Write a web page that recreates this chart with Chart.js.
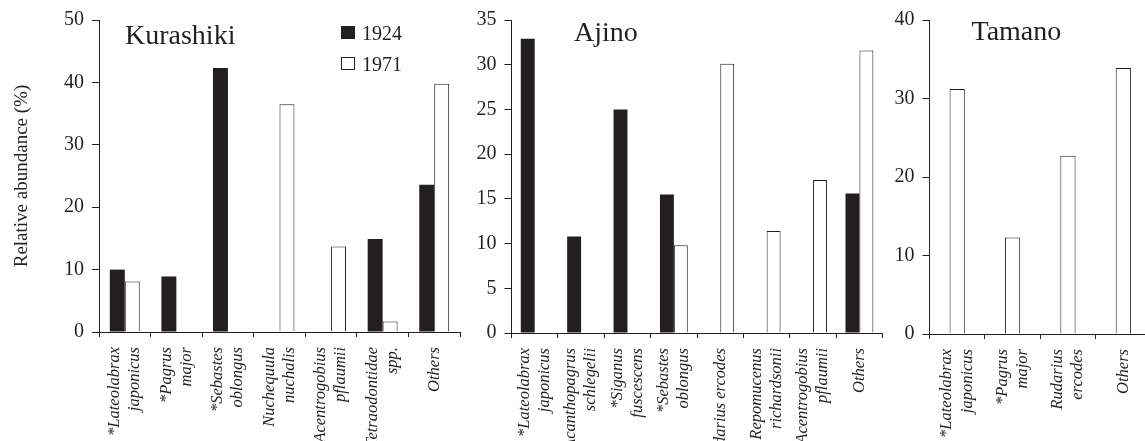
<!DOCTYPE html>
<html>
<head>
<meta charset="utf-8">
<script src="https://cdn.jsdelivr.net/npm/chart.js@4.4.1/dist/chart.umd.min.js"></script>
<style>
  html, body { margin: 0; padding: 0; background: #fff; overflow: hidden; }
  #wrap { position: relative; width: 1145px; height: 441px; overflow: hidden; }
  canvas { position: absolute; top: 0; }
</style>
</head>
<body>
<div id="wrap">
  <canvas id="kurashiki" width="470" height="441" style="left:0px"></canvas>
  <canvas id="ajino" width="420" height="441" style="left:470px"></canvas>
  <canvas id="tamano" width="270" height="441" style="left:890px"></canvas>
</div>
<script>
const seriesNames = ["1924", "1971"];

const kurashikiLabels = [
  ["*Lateolabrax", "japonicus"], ["*Pagrus", "major"], ["*Sebastes", "oblongus"],
  ["Nuchequula", "nuchalis"], ["Acentrogobius", "pflaumii"], ["Tetraodontidae", "spp."], ["Others"]
];
const kurashiki1924 = [10.0, 8.9, 42.3, null, null, 14.9, 23.6];
const kurashiki1971 = [8.1, null, null, 36.5, 13.7, 1.7, 39.8];
const kurashikiTicks = { max: 50, step: 10 };

const ajinoLabels = [
  ["*Lateolabrax", "japonicus"], ["*Acanthopagrus", "schlegelii"], ["*Siganus", "fuscescens"],
  ["*Sebastes", "oblongus"], ["Rudarius ercodes"], ["Repomucenus", "richardsonii"],
  ["Acentrogobius", "pflaumii"], ["Others"]
];
const ajino1924 = [32.9, 10.8, 25.0, 15.5, null, null, null, 15.6];
const ajino1971 = [null, null, null, 9.8, 30.1, 11.4, 17.1, 31.6];
const ajinoTicks = { max: 35, step: 5 };

const tamanoLabels = [["*Lateolabrax", "japonicus"], ["*Pagrus", "major"], ["Rudarius", "ercodes"], ["Others"]];
const tamano1971 = [31.2, 12.3, 22.7, 33.9];
const tamanoTicks = { max: 40, step: 10 };

const INK = "#231f20";
const SERIF = "'Liberation Serif', 'Times New Roman', serif";

const dark = (data) => ({ label: seriesNames[0], data: data, backgroundColor: INK, borderWidth: 0 });
const open = (data) => ({ label: seriesNames[1], data: data, backgroundColor: "#ffffff", borderColor: INK, borderWidth: 1 });

// two-line tick labels: chart.js puts the first line on the tick, centre the block instead
const centerLines = {
  id: "centerLines",
  beforeDraw(chart) {
    const items = chart.scales.x.getLabelItems();
    if (items._centered) return;
    items.forEach((it) => {
      const n = Array.isArray(it.label) ? it.label.length : 1;
      it.options.translation[0] -= (n - 1) * it.font.lineHeight / 2;
    });
    items._centered = true;
  }
};

// site name and the legend, drawn inside the plot area
const panelText = {
  id: "panelText",
  afterDraw(chart, args, opts) {
    const ctx = chart.ctx;
    ctx.save();
    ctx.fillStyle = INK;
    ctx.textBaseline = "alphabetic";
    ctx.font = "28px " + SERIF;
    ctx.fillText(opts.name, opts.nameX, opts.nameY);
    if (opts.legend) {
      ctx.font = "20px " + SERIF;
      chart.data.datasets.forEach((ds, i) => {
        const y = opts.legendY + i * 31;
        ctx.fillStyle = ds.backgroundColor;
        ctx.fillRect(opts.legendX, y, 14, 13);
        ctx.strokeStyle = INK;
        ctx.lineWidth = 1;
        ctx.strokeRect(opts.legendX + 0.5, y + 0.5, 13, 12);
        ctx.fillStyle = INK;
        ctx.fillText(ds.label, opts.legendX + 21, y + 14);
      });
    }
    ctx.restore();
  }
};

function panel(id, cfg) {
  return new Chart(document.getElementById(id), {
    type: "bar",
    data: { labels: cfg.labels, datasets: cfg.datasets },
    options: {
      responsive: false,
      animation: false,
      events: [],
      layout: { padding: { left: 0, right: cfg.padRight, top: cfg.top, bottom: 0 } },
      datasets: { bar: { categoryPercentage: cfg.catPct, barPercentage: 1 } },
      plugins: {
        legend: { display: false },
        tooltip: { enabled: false },
        panelText: cfg.text
      },
      scales: {
        x: {
          grid: { drawOnChartArea: false, tickLength: 5, color: INK, lineWidth: 1 },
          border: { color: INK, width: 1 },
          ticks: {
            autoSkip: false, minRotation: 90, maxRotation: 90, padding: 10,
            color: INK, font: { family: SERIF, size: 16.5, style: "italic", lineHeight: 1.22 }
          },
          afterFit: (s) => { s.height = cfg.xHeight; }
        },
        y: {
          min: 0, max: cfg.ticks.max,
          ticks: { stepSize: cfg.ticks.step, padding: 8, color: INK, font: { family: SERIF, size: 20 } },
          grid: { drawOnChartArea: false, tickLength: 7, color: INK, lineWidth: 1 },
          border: { color: INK, width: 1 },
          title: cfg.yTitle
            ? { display: true, text: cfg.yTitle, color: INK, font: { family: SERIF, size: 19 }, padding: { top: 11, bottom: 0 } }
            : { display: false },
          afterFit: (s) => { s.width = cfg.yWidth; }
        }
      }
    },
    plugins: [centerLines, panelText]
  });
}

panel("kurashiki", {
  labels: kurashikiLabels,
  datasets: [dark(kurashiki1924), open(kurashiki1971)],
  ticks: kurashikiTicks,
  top: 17, xHeight: 109, yWidth: 99, padRight: 10, catPct: 0.58,
  yTitle: "Relative abundance (%)",
  text: { name: "Kurashiki", nameX: 125, nameY: 44, legend: true, legendX: 341, legendY: 26 }
});

panel("ajino", {
  labels: ajinoLabels,
  datasets: [dark(ajino1924), open(ajino1971)],
  ticks: ajinoTicks,
  top: 20, xHeight: 108, yWidth: 41.5, padRight: 7, catPct: 0.6,
  text: { name: "Ajino", nameX: 104, nameY: 41 }
});

panel("tamano", {
  labels: tamanoLabels,
  datasets: [open(tamano1971)],
  ticks: tamanoTicks,
  top: 19, xHeight: 107, yWidth: 39.5, padRight: 9, catPct: 0.275,
  text: { name: "Tamano", nameX: 81.5, nameY: 40 }
});
</script>
</body>
</html>
